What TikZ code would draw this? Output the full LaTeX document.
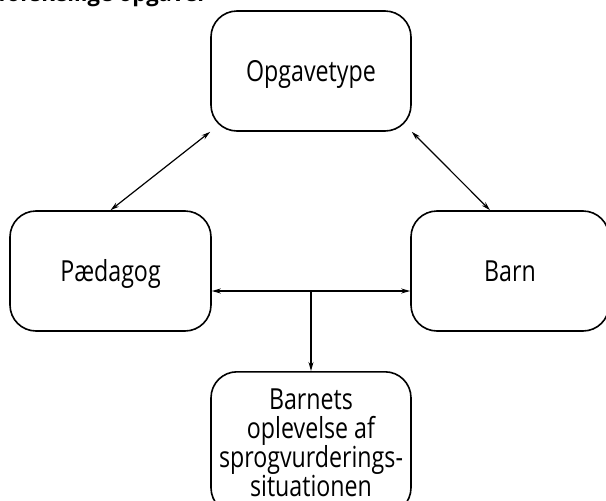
\documentclass[tikz,border=0pt]{standalone}
\usepackage{fontspec}
\setmainfont{Open Sans}
\newfontfamily\boxfont[FakeStretch=0.8]{Open Sans}
\usetikzlibrary{arrows.meta}
\tikzset{
  box/.style={draw, line width=1.6pt, rounded corners=26pt, align=center, inner sep=0pt, font=\boxfont\fontsize{29}{29}\selectfont},
  onebox/.style={box, text height=21pt, text depth=0pt},
  conn/.style={line width=1.2pt, {Stealth[length=9pt,width=5pt]}-{Stealth[length=9pt,width=5pt]}},
  conn1/.style={line width=1.2pt, -{Stealth[length=9pt,width=5pt]}},
}
\begin{document}
\begin{tikzpicture}[x=1pt,y=-1pt]
\useasboundingbox (0,0) rectangle (606,501);
\node[anchor=base west, font=\bfseries\fontsize{22}{26}\selectfont, inner sep=0pt] (title) at (-2,1) {forskellige opgaver};
\node[onebox, minimum width=200pt, minimum height=120pt] (op) at (311,71) {Opgavetype};
\node[onebox, minimum width=201pt, minimum height=120pt] (pae) at (110.5,271) {Pædagog};
\node[onebox, minimum width=198pt, minimum height=120pt] (barn) at (510,271) {Barn};
\node[box, minimum width=200pt, inner ysep=17pt, anchor=north] (bo) at (311,371) {Barnets\\oplevelse af\\sprogvurderings-\\situationen};
\draw[conn] (op.south west) -- (pae.north);
\draw[conn] (op.south east) -- ([xshift=-20pt]barn.north);
\draw[conn] ([yshift=-20pt]pae.east) -- coordinate[pos=0.5] (mid) ([yshift=-20pt]barn.west);
\draw[conn1] (mid) -- (bo.north);
\end{tikzpicture}
\end{document}
